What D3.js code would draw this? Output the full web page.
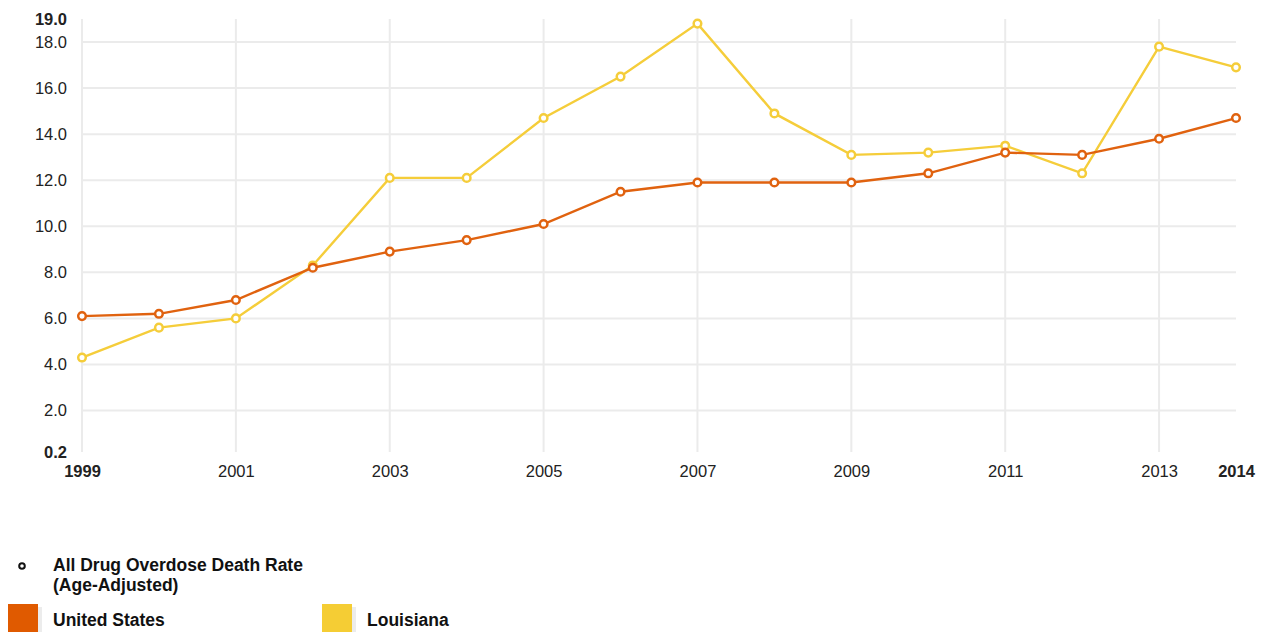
<!DOCTYPE html>
<html>
<head>
<meta charset="utf-8">
<script src="https://cdn.jsdelivr.net/npm/d3@7"></script>
<style>
  body { margin: 0; background: #fff; }
  svg { font-family: "Liberation Sans", Arial, sans-serif; }
</style>
</head>
<body>
<svg id="chart" width="1267" height="632"></svg>
<script>
// data
var years = [1999, 2000, 2001, 2002, 2003, 2004, 2005, 2006, 2007, 2008, 2009, 2010, 2011, 2012, 2013, 2014];
var usRates = [6.1, 6.2, 6.8, 8.2, 8.9, 9.4, 10.1, 11.5, 11.9, 11.9, 11.9, 12.3, 13.2, 13.1, 13.8, 14.7];
var laRates = [4.3, 5.6, 6.0, 8.3, 12.1, 12.1, 14.7, 16.5, 18.8, 14.9, 13.1, 13.2, 13.5, 12.3, 17.8, 16.9];
var yTicks = [0.2, 2, 4, 6, 8, 10, 12, 14, 16, 18, 19];
var xTicks = [1999, 2001, 2003, 2005, 2007, 2009, 2011, 2013, 2014];
var seriesNames = ["United States", "Louisiana"];

var colors = { "United States": "#e0620f", "Louisiana": "#f5cd3a" };
var swatch = { "United States": "#e05a00", "Louisiana": "#f5cd34" };

var svg = d3.select("#chart");
var x = d3.scaleLinear().domain([1999, 2014]).range([82, 1236]);
var y = d3.scaleLinear().domain([0.2, 19]).range([452, 19]);

// grid
var grid = svg.append("g");
grid.selectAll(".hg").data(yTicks.filter(function (t) { return t !== 0.2 && t !== 19; }))
  .enter().append("line")
  .attr("x1", x(1999)).attr("x2", x(2014))
  .attr("y1", function (d) { return y(d); }).attr("y2", function (d) { return y(d); })
  .attr("stroke", "#ebebeb").attr("stroke-width", 2);
grid.selectAll(".vg").data(xTicks.filter(function (t) { return t !== 2014; }))
  .enter().append("line")
  .attr("x1", function (d) { return x(d); }).attr("x2", function (d) { return x(d); })
  .attr("y1", y(19)).attr("y2", y(0.2))
  .attr("stroke", "#ebebeb").attr("stroke-width", 2);

// axes
var yAxis = d3.axisLeft(y).tickValues(yTicks).tickSize(0).tickPadding(0)
  .tickFormat(d3.format(".1f"));
var ya = svg.append("g").attr("transform", "translate(67,0)").call(yAxis);
ya.select(".domain").remove();
ya.selectAll("text").attr("font-size", 16.5).attr("fill", "#222")
  .attr("font-family", "Liberation Sans, Arial, sans-serif")
  .attr("font-weight", function (d) { return (d === 0.2 || d === 19) ? "bold" : "normal"; });

var xAxis = d3.axisBottom(x).tickValues(xTicks).tickSize(0).tickPadding(0)
  .tickFormat(d3.format("d"));
var xa = svg.append("g").attr("transform", "translate(0,465)").call(xAxis);
xa.select(".domain").remove();
xa.selectAll("text").attr("font-size", 16.5).attr("fill", "#222")
  .attr("font-family", "Liberation Sans, Arial, sans-serif")
  .attr("font-weight", function (d) { return (d === 1999 || d === 2014) ? "bold" : "normal"; });

// lines
var line = d3.line().x(function (d) { return x(d[0]); }).y(function (d) { return y(d[1]); });
var series = [
  { name: "Louisiana", values: d3.zip(years, laRates) },
  { name: "United States", values: d3.zip(years, usRates) }
];
series.forEach(function (s) {
  var g = svg.append("g");
  g.append("path").datum(s.values).attr("d", line)
    .attr("fill", "none").attr("stroke", colors[s.name]).attr("stroke-width", 2.4);
  g.selectAll("circle").data(s.values).enter().append("circle")
    .attr("cx", function (d) { return x(d[0]); }).attr("cy", function (d) { return y(d[1]); })
    .attr("r", 3.8).attr("fill", "#fff").attr("stroke", colors[s.name]).attr("stroke-width", 2.5);
});

// legend
var lg = svg.append("g");
lg.append("circle").attr("cx", 22).attr("cy", 566).attr("r", 2.8)
  .attr("fill", "#fff").attr("stroke", "#111").attr("stroke-width", 2);
lg.append("text").attr("x", 53).attr("y", 571).attr("font-size", 17.5).attr("font-weight", "bold")
  .attr("fill", "#111").text("All Drug Overdose Death Rate");
lg.append("text").attr("x", 53).attr("y", 591).attr("font-size", 17.5).attr("font-weight", "bold")
  .attr("fill", "#111").text("(Age-Adjusted)");

var lx = [8, 322];
seriesNames.forEach(function (n, i) {
  lg.append("rect").attr("x", lx[i] + 30).attr("y", 607).attr("width", 4).attr("height", 25).attr("fill", "#ececec");
  lg.append("rect").attr("x", lx[i]).attr("y", 604).attr("width", 30).attr("height", 28).attr("fill", swatch[n]);
  lg.append("text").attr("x", lx[i] + 45).attr("y", 626).attr("font-size", 17.5).attr("font-weight", "bold")
    .attr("fill", "#111").text(n);
});
</script>
</body>
</html>
